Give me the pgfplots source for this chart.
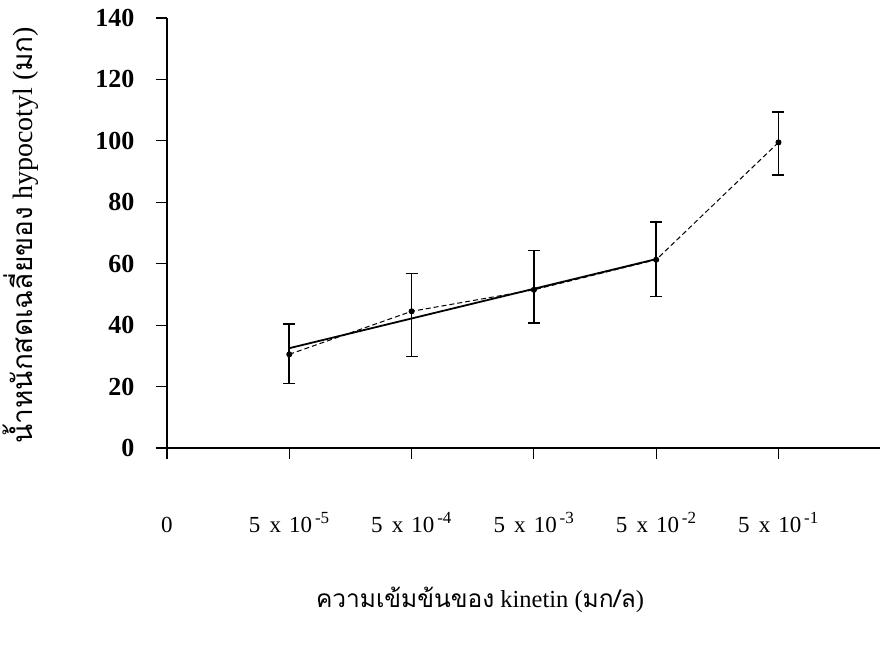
\documentclass[border=0pt]{standalone}
\usepackage{fontspec}
\setmainfont{Liberation Serif}
\newfontfamily\thaifont[Script=Thai]{Loma}
\usepackage{pgfplots}
\usepackage{pgfplotstable}
\pgfplotsset{compat=1.18}
\pgfplotstableread{
x y ep em
1 30.5 10.0 9.5
2 44.5 12.3 14.7
3 51.5 12.8 10.8
4 61.3 12.2 12.0
5 99.5 9.8 10.5
}\means
\pgfplotstableread{
x y
1 32.5
4 61.5
}\fit
\newcommand{\lab}[1]{5\hspace{0.4em}x\hspace{0.35em}10\textsuperscript{\fontsize{17bp}{17bp}\selectfont\,#1}}
\begin{document}
\begin{tikzpicture}
\begin{axis}[
  at={(0,0)}, anchor=south west,
  scale only axis, width=713bp, height=430bp,
  xmin=0, xmax=5.83, ymin=0, ymax=140,
  axis x line=bottom, axis y line=left,
  axis line style={-, line width=1.2bp},
  tick align=outside, major tick length=11bp,
  tick style={line width=1.2bp, black},
  xtick={0,1,2,3,4,5},
  xticklabels={{\vphantom{\lab{-5}}0},\lab{-5},\lab{-4},\lab{-3},\lab{-2},\lab{-1}},
  ytick={0,20,...,140},
  /pgf/number format/assume math mode=true,
  yticklabel style={font=\fontsize{26bp}{28bp}\selectfont\bfseries, xshift=-18bp},
  xticklabel style={font=\fontsize{23bp}{25bp}\selectfont, yshift=-50bp},
  xlabel={{\thaifont ความเข้มข้นของ} kinetin ({\thaifont มก/ล})},
  ylabel={{\thaifont น้ำหนักสดเฉลี่ยของ} hypocotyl ({\thaifont มก})},
  xlabel style={font=\fontsize{24.5bp}{26bp}\selectfont, at={(axis description cs:0.439,-0.353)}, anchor=center},
  ylabel style={font=\fontsize{28bp}{30bp}\selectfont, at={(axis description cs:-0.205,0.495)}, anchor=center},
  clip=false,
]
\addplot[black, line width=1.8bp] table[x=x,y=y] {\fit};
\addplot[black, line width=1bp, dash pattern=on 5bp off 3bp, mark=*, mark size=2.5bp, mark options={solid},
  error bars/.cd, y dir=both, y explicit,
  error bar style={line width=1.8bp, solid},
  error mark options={rotate=90, mark size=6bp, line width=1.8bp, solid}]
  table[x=x,y=y,y error plus=ep,y error minus=em] {\means};
\end{axis}
\pgfresetboundingbox
\path[use as bounding box] (-167bp,-198bp) rectangle (727bp,448bp);
\end{tikzpicture}
\end{document}
